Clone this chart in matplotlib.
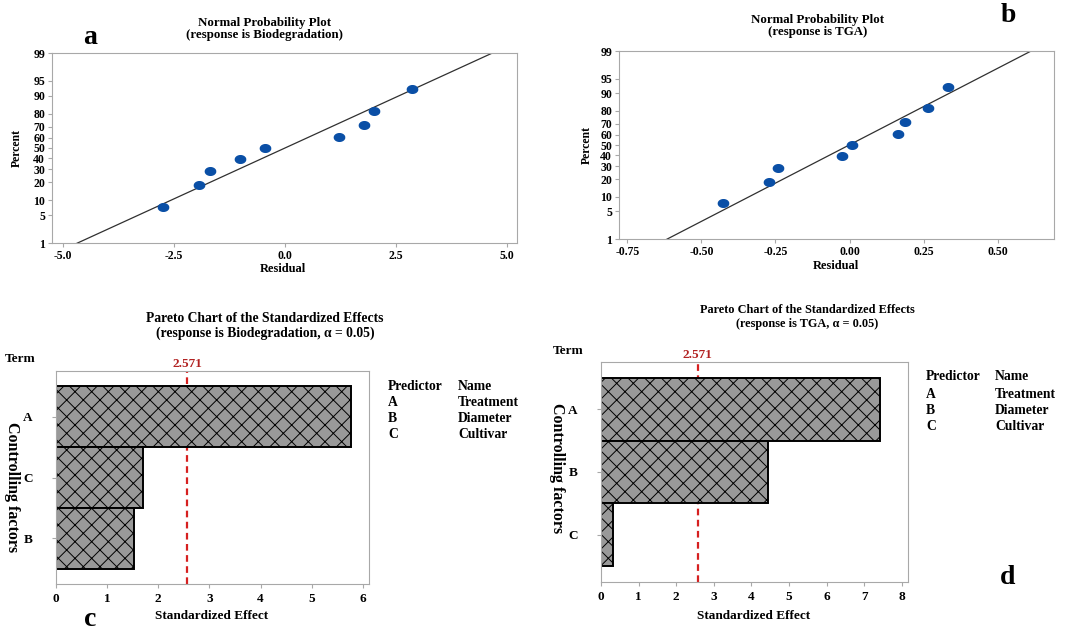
import numpy as np
import matplotlib
matplotlib.use('Agg')
import matplotlib.pyplot as plt
from statistics import NormalDist

plt.rcParams['font.family'] = ['Liberation Serif', 'DejaVu Serif']
plt.rcParams['font.weight'] = 'bold'
plt.rcParams['hatch.linewidth'] = 0.7

# --- data ---
percent = [7.4, 18.1, 28.7, 39.4, 50.0, 60.6, 71.3, 81.9, 92.6]
resid_bio = [-2.75, -1.93, -1.70, -1.02, -0.46, 1.22, 1.78, 2.01, 2.86]
resid_tga = [-0.428, -0.271, -0.241, -0.025, 0.009, 0.162, 0.187, 0.265, 0.332]
prob_ticks = [1, 5, 10, 20, 30, 40, 50, 60, 70, 80, 90, 95, 99]

terms_bio = ['A', 'C', 'B']
effects_bio = [5.77, 1.70, 1.53]
terms_tga = ['A', 'B', 'C']
effects_tga = [7.41, 4.45, 0.33]
t_crit = 2.571
predictors = ['A', 'B', 'C']
pred_names = ['Treatment', 'Diameter', 'Cultivar']

W, H = 1075, 634
fig = plt.figure(figsize=(W / 100, H / 100), dpi=100)

def box(l, t, r, b):
    return [l / W, 1 - b / H, (r - l) / W, (b - t) / H]

def ftext(x, y, s, **kw):
    fig.text(x / W, 1 - y / H, s, **kw)

nd = NormalDist()
z = lambda p: nd.inv_cdf(p / 100.0)

theta = np.linspace(0, 2 * np.pi, 40)
ellipse = np.column_stack([1.35 * np.cos(theta), np.sin(theta)])

def prob_plot(rect, resid, xlim, xticks, xfmt):
    ax = fig.add_axes(rect)
    r = np.array(resid)
    mu, sd = r.mean(), r.std(ddof=1)
    xs = np.array(xlim)
    ax.plot(xs, (xs - mu) / sd, color='#303030', lw=0.9)
    ax.scatter(r, [z(p) for p in percent], marker=ellipse, s=55, color='#0a4fa6', zorder=3)
    ax.set_xlim(xlim)
    ax.set_ylim(z(1), z(99))
    ax.set_yticks([z(p) for p in prob_ticks])
    ax.set_yticklabels([str(p) for p in prob_ticks])
    ax.set_xticks(xticks)
    ax.set_xticklabels([xfmt.format(v) for v in xticks])
    for sp in ax.spines.values():
        sp.set_color('#a8a8a8')
    ax.tick_params(labelsize=8.5, length=3, color='#a8a8a8', pad=2)
    return ax

# a
prob_plot(box(52, 53, 517, 243), resid_bio, (-5.25, 5.23), [-5, -2.5, 0, 2.5, 5], '{:.1f}')
ftext(265, 29, 'Normal Probability Plot\n(response is Biodegradation)', ha='center', va='center', fontsize=9.3, linespacing=1.05)
ftext(17, 148, 'Percent', rotation=90, ha='center', va='center', fontsize=8.5)
ftext(283, 269, 'Residual', ha='center', va='center', fontsize=9)
ftext(90, 37, 'a', ha='center', va='center', fontsize=20)

# b
prob_plot(box(619, 51, 1054, 239), resid_tga, (-0.778, 0.69), [-0.75, -0.5, -0.25, 0, 0.25, 0.5], '{:.2f}')
ftext(818, 26, 'Normal Probability Plot\n(response is TGA)', ha='center', va='center', fontsize=9.3, linespacing=1.05)
ftext(587, 145, 'Percent', rotation=90, ha='center', va='center', fontsize=8.5)
ftext(836, 266, 'Residual', ha='center', va='center', fontsize=9)
ftext(1008, 16, 'b', ha='center', va='center', fontsize=20)

def pareto(rect, terms, effects, xmax, xticks):
    ax = fig.add_axes(rect)
    pos = np.arange(len(terms))
    ax.barh(pos, effects, height=1.0, color='#999999', edgecolor='black', hatch='xx', lw=1.4)
    ax.axvline(t_crit, color='#d62020', ls=(0, (3, 2)), lw=1.6, zorder=0.5)
    ax.set_ylim(2.75, -0.75)
    ax.set_xlim(0, xmax)
    ax.set_yticks(pos)
    ax.set_yticklabels(terms)
    ax.set_xticks(xticks)
    for sp in ax.spines.values():
        sp.set_color('#a8a8a8')
    ax.tick_params(labelsize=9.5, length=3, color='#a8a8a8')
    ax.tick_params(axis='y', pad=14)
    ax.text(t_crit, 1.005, '2.571', transform=ax.get_xaxis_transform(), color='#b22222',
            ha='center', va='bottom', fontsize=9.5)
    return ax

# c
pareto(box(56, 371, 369, 584), terms_bio, effects_bio, 6.12, range(7))
ftext(265, 326, 'Pareto Chart of the Standardized Effects\n(response is Biodegradation, \u03b1 = 0.05)',
      ha='center', va='center', fontsize=9.8, linespacing=1.15)
ftext(5, 359, 'Term', ha='left', va='center', fontsize=9.5)
ftext(12, 487, 'Controlling factors', rotation=270, ha='center', va='center', fontsize=11.5)
ftext(212, 616, 'Standardized Effect', ha='center', va='center', fontsize=9.5)
ftext(388, 386, 'Predictor', ha='left', va='center', fontsize=9.8)
ftext(458, 386, 'Name', ha='left', va='center', fontsize=9.8)
for i, (p, n) in enumerate(zip(predictors, pred_names)):
    ftext(388, 402 + 16 * i, p, ha='left', va='center', fontsize=9.8)
    ftext(458, 402 + 16 * i, n, ha='left', va='center', fontsize=9.8)
ftext(90, 620, 'c', ha='center', va='center', fontsize=20)

# d
pareto(box(601, 362, 908, 582), terms_tga, effects_tga, 8.16, range(9))
ftext(807, 317, 'Pareto Chart of the Standardized Effects\n(response is TGA, \u03b1 = 0.05)',
      ha='center', va='center', fontsize=8.8, linespacing=1.15)
ftext(553, 351, 'Term', ha='left', va='center', fontsize=9.5)
ftext(557, 468, 'Controlling factors', rotation=270, ha='center', va='center', fontsize=11.5)
ftext(754, 616, 'Standardized Effect', ha='center', va='center', fontsize=9.5)
ftext(926, 377, 'Predictor', ha='left', va='center', fontsize=9.8)
ftext(995, 377, 'Name', ha='left', va='center', fontsize=9.8)
for i, (p, n) in enumerate(zip(predictors, pred_names)):
    ftext(926, 394 + 16.5 * i, p, ha='left', va='center', fontsize=9.8)
    ftext(995, 394 + 16.5 * i, n, ha='left', va='center', fontsize=9.8)
ftext(1008, 577, 'd', ha='center', va='center', fontsize=20)

fig.savefig('out.png', dpi=100)
